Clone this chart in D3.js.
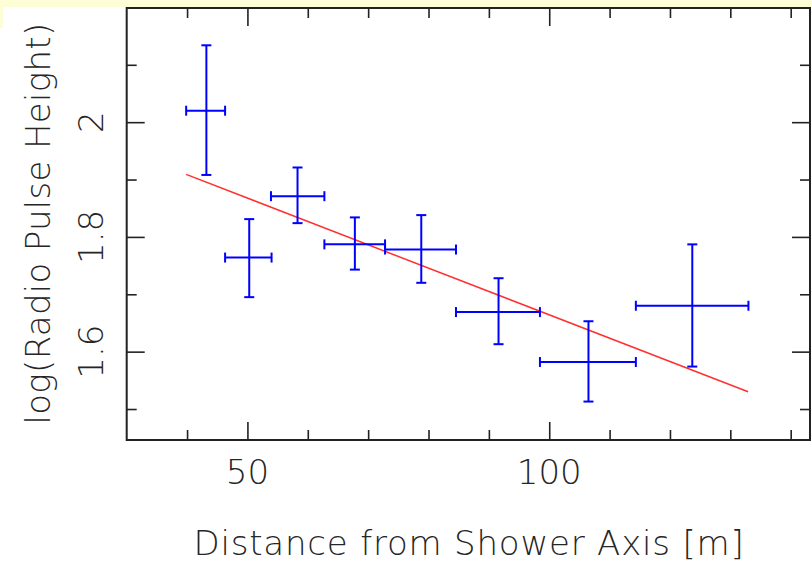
<!DOCTYPE html>
<html>
<head>
<meta charset="utf-8">
<script src="https://cdn.jsdelivr.net/npm/d3@7"></script>
<style>
  html, body { margin: 0; padding: 0; background: #fff; }
  svg { display: block; }
  .axis path { display: none; }
  .axis line { stroke: #222; stroke-width: 1.6; }
  .axis text { display: none; }
  .label { font-family: "DejaVu Sans", sans-serif; font-weight: 200; fill: #262626; }
</style>
</head>
<body>
<svg id="chart" width="812" height="565"></svg>
<script>
/* =======================
   DATA
======================= */
const distance  = [43.2, 50.3, 58.3, 67.8, 78.8, 91.6, 106.5, 123.7];
const distLow   = [39.85, 46.3, 53.9, 62.75, 72.8, 84.55, 98.46, 114.35];
const distHigh  = [46.3, 54.0, 62.75, 72.8, 84.55, 98.46, 114.35, 133.0];
const logHeight = [2.020, 1.764, 1.871, 1.787, 1.778, 1.669, 1.582, 1.680];
const logLow    = [1.908, 1.695, 1.824, 1.743, 1.720, 1.613, 1.513, 1.574];
const logHigh   = [2.134, 1.831, 1.921, 1.834, 1.838, 1.728, 1.653, 1.787];

const fitX = [39.85, 132.95];
const fitY = [1.909, 1.530];

const xMajor = [50, 100];
const xMinor = [40, 60, 70, 80, 90, 110, 120, 130, 140];
const yMajor = [1.6, 1.8, 2.0];
const yMinor = [1.5, 1.7, 1.9, 2.1];

const points = distance.map((d, i) => ({
    x: d, xl: distLow[i], xh: distHigh[i],
    y: logHeight[i], yl: logLow[i], yh: logHigh[i]
}));

/* =======================
   LAYOUT
======================= */
const plotL = 126.7, plotR = 810, plotT = 8, plotB = 440;

const svg = d3.select("#chart");

// pale yellow strip along the top edge
svg.append("rect").attr("x", 0).attr("y", 0).attr("width", 812).attr("height", 7).attr("fill", "#fdfdd6");
svg.append("rect").attr("x", 0).attr("y", 0).attr("width", 3).attr("height", 28).attr("fill", "#fdfdd6");

const xScale = d3.scaleLinear().domain([30, 143.2]).range([plotL, plotR]);
const yScale = d3.scaleLinear().domain([1.446, 2.199]).range([plotB, plotT]);

// Ticks on all four sides, pointing inward
const addAxis = (axisFn, scale, values, size, transform) => {
    svg.append("g")
        .attr("class", "axis")
        .attr("transform", transform)
        .call(axisFn(scale).tickValues(values).tickSize(-size).tickFormat(""));
};

addAxis(d3.axisBottom, xScale, xMajor, 18, `translate(0,${plotB})`);
addAxis(d3.axisBottom, xScale, xMinor, 10, `translate(0,${plotB})`);
addAxis(d3.axisTop, xScale, xMajor, 18, `translate(0,${plotT})`);
addAxis(d3.axisTop, xScale, xMinor, 10, `translate(0,${plotT})`);
addAxis(d3.axisLeft, yScale, yMajor, 18, `translate(${plotL},0)`);
addAxis(d3.axisLeft, yScale, yMinor, 10, `translate(${plotL},0)`);
addAxis(d3.axisRight, yScale, yMajor, 18, `translate(${plotR},0)`);
addAxis(d3.axisRight, yScale, yMinor, 10, `translate(${plotR},0)`);

// Frame
svg.append("rect")
    .attr("x", plotL).attr("y", plotT)
    .attr("width", plotR - plotL).attr("height", plotB - plotT)
    .attr("fill", "none").attr("stroke", "#222").attr("stroke-width", 2);

// Tick labels
svg.selectAll(".xlab").data(xMajor).enter()
    .append("text")
    .attr("class", "label")
    .attr("x", d => xScale(d))
    .attr("y", 484)
    .attr("text-anchor", "middle")
    .attr("font-size", 34)
    .text(d => d);

svg.selectAll(".ylab").data(yMajor).enter()
    .append("text")
    .attr("class", "label")
    .attr("transform", d => `translate(103,${yScale(d)}) rotate(-90)`)
    .attr("text-anchor", "middle")
    .attr("font-size", 34)
    .text(d => +d.toFixed(1));

// Axis titles
svg.append("text")
    .attr("class", "label")
    .attr("x", 469).attr("y", 555)
    .attr("text-anchor", "middle")
    .attr("font-size", 34)
    .attr("letter-spacing", 0.8)
    .text("Distance from Shower Axis [m]");

svg.append("text")
    .attr("class", "label")
    .attr("transform", "translate(50,223.5) rotate(-90)")
    .attr("text-anchor", "middle")
    .attr("font-size", 34)
    .attr("letter-spacing", 0.3)
    .text("log(Radio Pulse Height)");

// Fit line
svg.append("path")
    .datum(fitX.map((x, i) => ({ x, y: fitY[i] })))
    .attr("fill", "none")
    .attr("stroke", "#ff3030")
    .attr("stroke-width", 1.5)
    .attr("d", d3.line().x(d => xScale(d.x)).y(d => yScale(d.y)));

// Error bars
const cap = 5;
const bars = svg.append("g").attr("stroke", "#0000ff").attr("stroke-width", 2);
points.forEach(p => {
    const g = bars.append("g");
    const cx = xScale(p.x), cy = yScale(p.y);
    g.append("line").attr("x1", xScale(p.xl)).attr("x2", xScale(p.xh)).attr("y1", cy).attr("y2", cy);
    g.append("line").attr("x1", cx).attr("x2", cx).attr("y1", yScale(p.yl)).attr("y2", yScale(p.yh));
    g.append("line").attr("x1", cx - cap).attr("x2", cx + cap).attr("y1", yScale(p.yl)).attr("y2", yScale(p.yl));
    g.append("line").attr("x1", cx - cap).attr("x2", cx + cap).attr("y1", yScale(p.yh)).attr("y2", yScale(p.yh));
    g.append("line").attr("x1", xScale(p.xl)).attr("x2", xScale(p.xl)).attr("y1", cy - cap).attr("y2", cy + cap);
    g.append("line").attr("x1", xScale(p.xh)).attr("x2", xScale(p.xh)).attr("y1", cy - cap).attr("y2", cy + cap);
});
</script>
</body>
</html>
